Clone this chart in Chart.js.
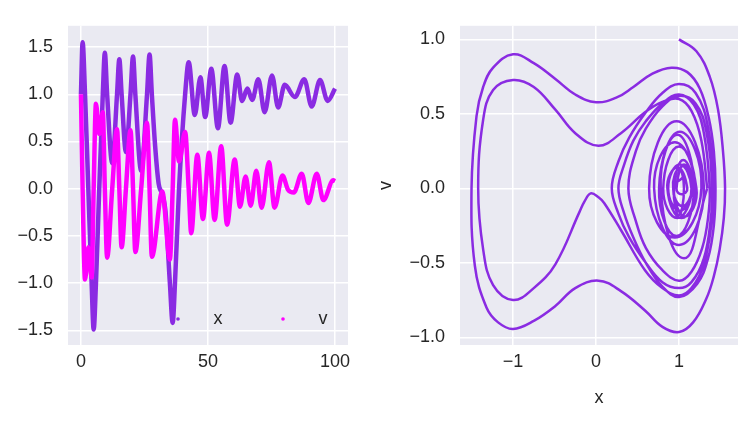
<!DOCTYPE html>
<html>
<head>
<meta charset="utf-8">
<script src="https://cdn.jsdelivr.net/npm/chart.js@4.4.1/dist/chart.umd.min.js"></script>
<style>
  body { margin: 0; background: #fff; }
  .box { position: absolute; top: 0; height: 421px; }
</style>
</head>
<body>
<div class="box" style="left:0;width:360px"><canvas id="tsChart"></canvas></div>
<div class="box" style="left:370px;width:381px"><canvas id="phaseChart"></canvas></div>
<script>
// ================= DATA =================
const seriesNames = ["x", "v"];

// x(t): extremes and crossings
const xTimes = [0, 0.65, 1.6, 2.9, 4.2, 5.0, 5.9, 7.2, 8.6, 9.4,
  10.3, 12.3, 14.2, 15.1, 16.0, 17.7, 19.5, 20.5, 21.4, 23.7,
  26.0, 27.0, 27.9, 29.2, 30.6, 32.0, 33.3, 35.0, 36.1, 37.0,
  38.6, 41.0, 42.4, 44.8, 47.0, 48.9, 51.3, 53.9, 56.5, 58.9,
  61.5, 63.4, 65.5, 67.4, 69.8, 72.3, 75.2, 77.6, 80.2, 84.2,
  87.9, 90.8, 94.1, 97.1, 100];
const xValues = [1.00, 1.55, 1.00, 0.00, -1.00, -1.49, -1.00, 0.00, 1.00, 1.44,
  1.00, 0.27, 1.00, 1.37, 1.00, 0.39, 1.00, 1.40, 1.00, 0.19,
  1.00, 1.42, 1.00, 0.45, 0.05, -0.06, -0.25, -1.00, -1.42, -1.00,
  0.00, 1.00, 1.34, 0.78, 1.18, 0.76, 1.27, 0.64, 1.30, 0.70,
  1.21, 0.93, 1.06, 0.94, 1.16, 0.81, 1.20, 0.86, 1.10, 0.97,
  1.16, 0.87, 1.15, 0.93, 1.06];

// v(t)
const vTimes = [0, 0.65, 1.6, 2.9, 4.2, 5.0, 5.9, 7.2, 8.6, 9.4,
  10.3, 12.3, 14.2, 15.1, 16.0, 17.7, 19.5, 20.5, 21.4, 23.7,
  26.0, 27.0, 27.9, 32.0, 35.0, 36.1, 37.0, 38.6, 41.0, 42.4,
  43.4, 45.8, 48.0, 50.4, 52.6, 55.2, 57.5, 60.5, 62.6, 64.8,
  66.8, 69.0, 71.1, 74.0, 76.2, 79.3, 81.5, 83.8, 86.9, 89.5,
  92.8, 95.4, 99.3, 100];
const vValues = [1.00, 0.00, -0.96, -0.62, -0.94, 0.00, 0.90, 0.58, 0.81, 0.00,
  -0.73, 0.00, 0.63, 0.00, -0.62, 0.00, 0.62, 0.00, -0.67, 0.00,
  0.70, 0.00, -0.72, -0.03, -0.75, 0.00, 0.73, 0.29, 0.60, 0.00,
  -0.47, 0.36, -0.32, 0.38, -0.33, 0.45, -0.38, 0.31, -0.19, 0.13,
  -0.18, 0.19, -0.20, 0.28, -0.20, 0.14, -0.01, -0.04, 0.16, -0.15,
  0.16, -0.12, 0.09, 0.08];

// phase portrait, first part (big loops, both wells)
const phaseX = [1.00, 1.21, 1.37, 1.47, 1.53, 1.555, 1.54, 1.49, 1.42, 1.33,
  1.17, 1.00, 0.80, 0.59, 0.30, 0.03, -0.25, -0.49, -0.75, -1.00,
  -1.18, -1.32, -1.46, -1.50, -1.44, -1.36, -1.24, -1.00, -0.75, -0.49,
  -0.25, 0.00, 0.25, 0.45, 0.68, 0.91, 1.10, 1.25, 1.36, 1.42, 1.44,
  1.42, 1.35, 1.22, 1.00, 0.80, 0.60, 0.45, 0.34, 0.27,
  0.34, 0.45, 0.60, 0.80, 1.00, 1.18, 1.30, 1.37,
  1.35, 1.28, 1.15, 1.00, 0.80, 0.60, 0.48, 0.39,
  0.48, 0.60, 0.80, 1.00, 1.20, 1.33, 1.40,
  1.38, 1.30, 1.15, 1.00, 0.80, 0.60, 0.40, 0.27, 0.19,
  0.27, 0.40, 0.60, 0.80, 1.00, 1.20, 1.35, 1.42,
  1.40, 1.30, 1.15, 1.00, 0.80, 0.59, 0.30, 0.10, 0.03, -0.064, -0.14, -0.20, -0.49, -0.75, -1.00,
  -1.24, -1.36, -1.42, -1.36, -1.24, -1.00, -0.75, -0.49, -0.25, 0.03,
  0.30, 0.59, 0.80, 1.00, 1.15, 1.27, 1.34];
const phaseV = [1.00, 0.92, 0.75, 0.53, 0.25, 0.00, -0.20, -0.41, -0.59, -0.74,
  -0.90, -0.965, -0.93, -0.82, -0.69, -0.62, -0.67, -0.79, -0.89, -0.944,
  -0.90, -0.80, -0.52, 0.00, 0.485, 0.68, 0.81, 0.90, 0.84, 0.734,
  0.63, 0.578, 0.61, 0.68, 0.77, 0.81, 0.78, 0.67, 0.47, 0.25, 0.00,
  -0.25, -0.47, -0.64, -0.73, -0.66, -0.50, -0.33, -0.17, 0.00,
  0.16, 0.32, 0.45, 0.57, 0.63, 0.56, 0.37, 0.00,
  -0.20, -0.40, -0.56, -0.62, -0.55, -0.40, -0.22, 0.00,
  0.25, 0.40, 0.55, 0.62, 0.57, 0.38, 0.00,
  -0.22, -0.47, -0.63, -0.67, -0.63, -0.50, -0.33, -0.17, 0.00,
  0.18, 0.34, 0.51, 0.64, 0.70, 0.64, 0.41, 0.00,
  -0.20, -0.51, -0.67, -0.72, -0.67, -0.55, -0.28, -0.10, -0.06, -0.034, -0.09, -0.16, -0.51, -0.67, -0.75,
  -0.65, -0.41, 0.00, 0.46, 0.66, 0.727, 0.68, 0.528, 0.37, 0.286,
  0.37, 0.51, 0.58, 0.60, 0.52, 0.32, 0.00];

// phase portrait, second part (spiral into the right well)
const spiralX = [1.34, 1.06, 0.78, 0.98, 1.18, 0.97, 0.76, 1.01, 1.27, 0.95,
  0.64, 0.97, 1.30, 1.00, 0.70, 0.95, 1.21, 1.07, 0.93, 1.00,
  1.06, 1.00, 0.94, 1.05, 1.16, 0.98, 0.81, 1.00, 1.20, 1.03,
  0.86, 0.98, 1.10, 1.03, 0.97, 1.06, 1.16, 1.01, 0.87, 1.01,
  1.15, 1.04, 0.93, 1.06];
const spiralV = [0.00, -0.47, 0.00, 0.36, 0.00, -0.32, 0.00, 0.38, 0.00, -0.33,
  0.00, 0.45, 0.00, -0.38, 0.00, 0.31, 0.00, -0.19, 0.00, 0.13,
  0.00, -0.18, 0.00, 0.19, 0.00, -0.20, 0.00, 0.28, 0.00, -0.20,
  0.00, 0.14, 0.00, -0.04, 0.00, 0.16, 0.00, -0.15, 0.00, 0.16,
  0.00, -0.12, 0.00, 0.08];

const tsXTicks = [0, 50, 100];
const tsYTicks = [-1.5, -1.0, -0.5, 0.0, 0.5, 1.0, 1.5];
const phXTicks = [-1, 0, 1];
const phYTicks = [-1.0, -0.5, 0.0, 0.5, 1.0];

// ================= STYLE =================
const PURPLE = "#8A2BE2";
const MAGENTA = "#FF00FF";
const TEXT = "#262626";

Chart.defaults.font.family = "'Liberation Sans', Arial, sans-serif";
Chart.defaults.font.size = 18;
Chart.defaults.color = TEXT;

function pairs(xs, ys) {
  return xs.map((x, i) => ({ x: x, y: ys[i] }));
}

function minusFmt(digits) {
  return v => (v < 0 ? "\u2212" : "") + Math.abs(v).toFixed(digits);
}

// grey plot background like seaborn darkgrid
const plotBg = {
  id: "plotBg",
  beforeDraw(chart) {
    const { ctx, chartArea: a } = chart;
    ctx.save();
    ctx.fillStyle = "#EAEAF2";
    ctx.fillRect(a.left, a.top, a.right - a.left, a.bottom - a.top);
    ctx.restore();
  }
};

// legend sits inside the axes, lower right
const innerLegend = {
  id: "innerLegend",
  afterDatasetsDraw(chart) {
    const { ctx, chartArea: a } = chart;
    const y = a.bottom - 26;
    const items = [
      { name: seriesNames[0], color: PURPLE, mx: a.left + 110, tx: a.left + 150 },
      { name: seriesNames[1], color: MAGENTA, mx: a.left + 215, tx: a.left + 255 }
    ];
    ctx.save();
    ctx.font = "18px 'Liberation Sans', Arial, sans-serif";
    ctx.textAlign = "center";
    ctx.textBaseline = "middle";
    items.forEach(it => {
      ctx.fillStyle = it.color;
      ctx.beginPath();
      ctx.arc(it.mx, y, 1.8, 0, Math.PI * 2);
      ctx.fill();
      ctx.fillStyle = TEXT;
      ctx.fillText(it.name, it.tx, y);
    });
    ctx.restore();
  }
};

function gridOpts() {
  return { color: "#FFFFFF", lineWidth: 1.5, drawTicks: false };
}

// ================= TIME SERIES =================
new Chart(document.getElementById("tsChart"), {
  type: "scatter",
  data: {
    datasets: [
      {
        label: seriesNames[0],
        data: pairs(xTimes, xValues),
        showLine: true,
        borderColor: PURPLE,
        borderWidth: 4.5,
        pointRadius: 0,
        cubicInterpolationMode: "monotone",
        tension: 0.4,
        order: 2
      },
      {
        label: seriesNames[1],
        data: pairs(vTimes, vValues),
        showLine: true,
        borderColor: MAGENTA,
        borderWidth: 4.5,
        pointRadius: 0,
        cubicInterpolationMode: "monotone",
        tension: 0.4,
        order: 1
      }
    ]
  },
  options: {
    responsive: true,
    maintainAspectRatio: false,
    animation: false,
    devicePixelRatio: 1,
    layout: { padding: { top: 15, right: 12, left: 0, bottom: 0 } },
    plugins: { legend: { display: false }, tooltip: { enabled: false } },
    scales: {
      x: {
        type: "linear",
        min: -5.1,
        max: 105.1,
        grid: gridOpts(),
        border: { display: false },
        afterBuildTicks: s => { s.ticks = tsXTicks.map(v => ({ value: v })); },
        afterFit: s => { s.height = 76; },
        ticks: { padding: 6, maxRotation: 0, autoSkip: false, callback: v => String(v) }
      },
      y: {
        type: "linear",
        min: -1.654,
        max: 1.725,
        grid: gridOpts(),
        border: { display: false },
        afterBuildTicks: s => { s.ticks = tsYTicks.map(v => ({ value: v })); },
        afterFit: s => { s.width = 68; },
        ticks: { padding: 15, autoSkip: false, callback: minusFmt(1) }
      }
    }
  },
  plugins: [plotBg, innerLegend]
});

// ================= PHASE PORTRAIT =================
new Chart(document.getElementById("phaseChart"), {
  type: "scatter",
  data: {
    datasets: [
      {
        data: pairs(phaseX, phaseV),
        showLine: true,
        borderColor: PURPLE,
        borderWidth: 2.5,
        pointRadius: 0,
        tension: 0.4
      },
      {
        data: pairs(spiralX, spiralV),
        showLine: true,
        borderColor: PURPLE,
        borderWidth: 2.5,
        pointRadius: 0,
        tension: 0.5
      }
    ]
  },
  options: {
    responsive: true,
    maintainAspectRatio: false,
    animation: false,
    devicePixelRatio: 1,
    layout: { padding: { top: 15, right: 13, left: 0, bottom: 0 } },
    plugins: { legend: { display: false }, tooltip: { enabled: false } },
    scales: {
      x: {
        type: "linear",
        min: -1.639,
        max: 1.711,
        grid: gridOpts(),
        border: { display: false },
        title: { display: true, text: "x", padding: { top: 4, bottom: 12 } },
        afterBuildTicks: s => { s.ticks = phXTicks.map(v => ({ value: v })); },
        afterFit: s => { s.height = 76; },
        ticks: { padding: 6, maxRotation: 0, autoSkip: false, callback: minusFmt(0) }
      },
      y: {
        type: "linear",
        min: -1.052,
        max: 1.091,
        grid: gridOpts(),
        border: { display: false },
        title: { display: true, text: "v", padding: { top: 5, bottom: 4 } },
        afterBuildTicks: s => { s.ticks = phYTicks.map(v => ({ value: v })); },
        afterFit: s => { s.width = 90; },
        ticks: { padding: 15, autoSkip: false, callback: minusFmt(1) }
      }
    }
  },
  plugins: [plotBg]
});
</script>
</body>
</html>
